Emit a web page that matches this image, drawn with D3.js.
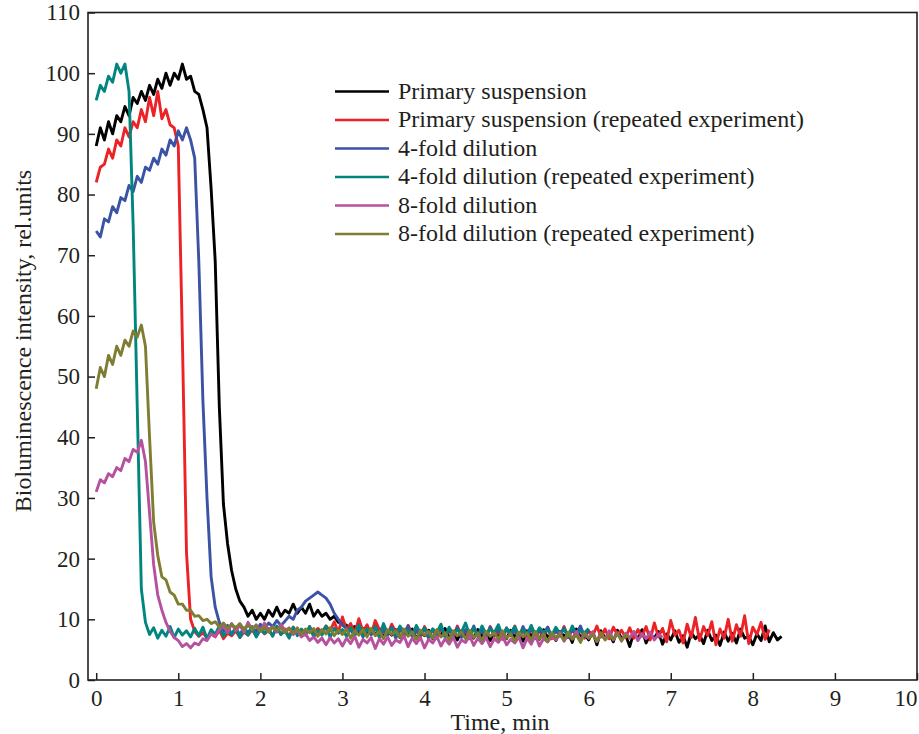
<!DOCTYPE html>
<html>
<head>
<meta charset="utf-8">
<script src="https://cdn.jsdelivr.net/npm/d3@7"></script>
<style>
  body { margin: 0; background: #fff; }
  text { font-family: "Liberation Serif", "Times New Roman", serif; fill: #231f20; }
</style>
</head>
<body>
<div id="chart"></div>
<script>
var w = 919, h = 734;

// sampling step of every series, in minutes (first sample at t = 0)
var dt = 0.05;

var seriesNames = [
  "Primary suspension",
  "Primary suspension (repeated experiment)",
  "4-fold dilution",
  "4-fold dilution (repeated experiment)",
  "8-fold dilution",
  "8-fold dilution (repeated experiment)"
];
var seriesColors = ["#000000", "#ed2227", "#3a53a4", "#00857f", "#b5519f", "#7f7d32"];

var xTicks = [0, 1, 2, 3, 4, 5, 6, 7, 8, 9, 10];
var yTicks = [0, 10, 20, 30, 40, 50, 60, 70, 80, 90, 100, 110];

// Primary suspension, 0 .. 8.35 min
var primary = [88, 91, 89, 92, 90, 93, 92, 94.5, 93, 96, 95, 97, 95.5, 98, 96.5, 99, 97.5, 100, 98, 100,
  99, 101.5, 99, 99.5, 97, 96.5, 94, 91, 81, 69, 45, 29, 22.5, 18, 15, 13, 12, 10.5, 11.5, 10,
  11, 10, 11.5, 10.5, 12, 10.5, 11.5, 11, 12.5, 11, 12, 11, 12.5, 10.5, 11.5, 10.5, 11, 10, 10.5, 9.5, 9.5,
  9, 8.4, 8.8, 7.9, 8.5, 7.6, 8.3, 7.5, 8.1, 7.2,
  8, 7.4, 8.3, 7, 7.9, 7.5, 8.4, 6.9, 7.8, 7.3,
  8.2, 6.8, 7.9, 7.4, 8.5, 7, 7.7, 6.6, 8.1, 7.3,
  7.9, 6.9, 8.3, 7.2, 7.6, 6.5, 8, 7.4, 7.8, 6.8,
  8.2, 7.1, 7.7, 6.4, 8.1, 7.3, 7.9, 6.7, 8.3, 7,
  7.6, 6.5, 8, 7.2, 7.8, 6.2, 8.4, 7.1, 7.5, 6.6,
  7.9, 5.8, 8.1, 6.9, 7.6, 6.3, 8.2, 6.8, 7.4, 5.5,
  7.9, 6.7, 8.3, 6.1, 7.5, 6.9, 8, 5.9, 7.6, 6.6,
  8.1, 6.2, 7.3, 5.4, 7.8, 6.8, 7.5, 6, 8.2, 6.5,
  7.4, 5.7, 7.9, 6.4, 7.7, 6.1, 8.4, 6.9, 7.2, 5.8,
  7.6, 6.5, 8.9, 6.3, 7.8, 6.6, 7.2];

// Primary suspension (repeated), 0 .. 8.2 min
var primaryRep = [82, 84.5, 85, 87.5, 86, 89, 88, 91, 89.5, 92, 91, 94, 92, 96, 93, 97, 92.5, 94, 91.5, 91,
  88, 56, 21, 10,
  8, 7.2, 7.8, 6.9, 7.6, 7.1, 8.2, 6.8, 7.7, 7.3,
  8.1, 7, 7.9, 7.4, 8.3, 7.2, 8.5, 7.6, 8.2, 7.3,
  8.6, 7.5, 8.4, 7.1, 8.7, 7.7, 8.3, 7.4, 8.8, 7.6,
  8.5, 7.9, 8.9, 8.1, 9.6, 7.8, 10.4, 8.2, 9.3, 7.7,
  10.1, 8, 9.1, 7.5, 9.8, 8.3, 8.7, 7.4, 9.2, 7.9,
  8.6, 7.2, 9, 7.6, 8.4, 7.1, 8.8, 7.5, 8.3, 6.9,
  8.7, 7.4, 8.2, 7, 8.9, 7.3, 8.1, 6.8, 8.6, 7.5,
  8.3, 7.1, 8.8, 7.2, 8, 6.7, 8.5, 7.4, 8.9, 7,
  8.2, 6.9, 8.6, 7.3, 8.1, 7.1, 8.7, 6.8, 8.4, 7.2,
  8.8, 7, 8.3, 7.4, 8.6, 6.9, 8.1, 7.3, 8.9, 7.1,
  8.4, 6.8, 8.7, 7.5, 8.2, 7, 8.6, 6.9, 8.3, 7.2,
  8.8, 6.6, 9.4, 7.1, 8.5, 6.3, 9.8, 7.4, 8.2, 6.1,
  9.2, 7, 10.3, 6.5, 8.8, 7.3, 9.6, 5.8, 8.4, 6.9,
  10, 6.4, 9.1, 7.2, 10.6, 6, 8.7, 7.5, 9.5, 6.7,
  8.3];

// 4-fold dilution, 0 .. 6.0 min
var fold4 = [74, 73, 76, 75.5, 78, 77, 79.5, 79, 81.5, 80.5,
  83, 82, 84.5, 84, 86, 85, 87.5, 86.5, 89, 88,
  90.5, 89, 91, 89, 86, 69, 46, 30, 17, 12,
  9.5, 8, 9, 7.5, 8.5, 7.5, 8.6, 7.8, 8.7, 8,
  9.2, 8.4, 9.4, 8.8, 9.8, 9, 9.7, 10.5, 10, 11.5,
  12, 13, 13.5, 14, 14.5, 14, 13.5, 12.5, 11, 10,
  9, 8.5,
  8.2, 7.3, 8.6, 7.1, 8.4, 7.5, 8.8, 7, 8.1, 7.4,
  8.7, 6.9, 8.3, 7.6, 8.9, 7.2, 8, 7.5, 8.5, 6.8,
  8.4, 7.3, 8.8, 7.1, 8.2, 7.6, 8.6, 7, 8.3, 7.4,
  8.9, 7.2, 8.1, 6.9, 8.7, 7.5, 8.4, 7.1, 8.6, 7.3,
  8.2, 7, 8.8, 7.4, 8.5, 6.8, 8.3, 7.6, 8.7, 7.2,
  8.1, 7.3, 8.6, 7, 8.4, 7.5, 8.9, 7.1, 8.2];

// 4-fold dilution (repeated), 0 .. 6.0 min
var fold4Rep = [95.5, 98, 97, 99.5, 98.5, 101.5, 100, 101.5, 97, 75, 45, 15, 9.5,
  7.5, 8.6, 6.9, 8.2, 7.2, 8.8, 7, 8.4, 7.4, 8.1,
  7.1, 8.5, 7.3, 8.7, 6.8, 8.3, 7.5, 8.9, 7.2, 8.2,
  7.6, 8.6, 7, 8.4, 7.4, 8.8, 7.1, 8.3, 7.7, 8.5,
  7.2, 8.9, 7.5, 8.1, 6.9, 8.7, 7.3, 8.4, 7.6, 8.8,
  7.1, 8.2, 7.4, 8.9, 7, 8.5, 7.7, 8.3, 7.2, 8.6,
  7.5, 9.1, 7.3, 8.4, 7.8, 8.8, 7.1, 9.3, 7.6, 8.5,
  7.4, 8.9, 7.9, 8.2, 7.2, 9, 7.7, 8.6, 7.3, 8.4,
  7.8, 9.2, 7.1, 8.7, 7.5, 8.3, 7.9, 9.4, 7.4, 8.6,
  7.2, 8.9, 7.6, 8.4, 7.8, 9.1, 7.3, 8.5, 7.7, 8.8,
  7.1, 8.3, 7.5, 9, 7.4, 8.6, 7.9, 8.2, 7.3, 8.7,
  7.6, 8.4, 7.2, 8.9, 7.5, 8.1, 7.8, 8.5];

// 8-fold dilution, 0 .. 6.9 min
var fold8 = [31, 33, 32.5, 34, 33.5, 35, 34.5, 36.5, 36, 38,
  37.5, 39.5, 36, 27.5, 19, 14, 11.5, 9.5, 8, 7,
  6.5, 5.5, 6, 5.3, 6.1, 5.8, 6.8, 6.5, 7.6, 7.2, 8.3,
  8.9, 7.8, 9.3, 8.1, 9, 7.9, 9.5, 8.3, 9.1, 8,
  9.4, 8.2, 8.8, 7.9, 9.2, 8.1, 8.6, 7.5, 8.2, 7.1,
  7.6, 6.5, 7.1, 6.2, 6.9, 5.8, 7, 6.1, 6.8, 5.6,
  6.9, 6, 7.2, 5.4, 6.7, 6.1, 7, 5.2, 6.8, 5.9,
  7.1, 5.7, 6.6, 6.2, 7.3, 5.5, 6.9, 6, 7, 5.3,
  6.7, 6.1, 7.2, 5.6, 6.8, 5.9, 7.1, 5.4, 6.6, 6.2,
  7.3, 5.7, 6.9, 6, 7, 5.5, 6.8, 6.2, 7.2, 5.8,
  6.7, 6.1, 7.1, 5.3, 6.9, 5.9, 7.4, 5.6, 6.8, 6.3,
  7.2, 6.6, 7.8, 6.4, 7.6, 6.8, 8, 6.5, 7.7, 6.9,
  7.9, 6.3, 7.5, 6.7, 8.1, 6.6, 7.8, 6.4, 7.7, 6.9,
  8, 6.5, 7.6, 6.8, 7.9, 6.6, 7.5, 7];

// 8-fold dilution (repeated), 0 .. 6.5 min
var fold8Rep = [48, 51.5, 50, 53.5, 52, 55, 53.5, 56, 55, 57.5,
  56.5, 58.5, 55, 40, 26, 20.5, 17, 16.5, 14.5, 14,
  12.5, 12.5, 11.5, 11.5, 10.5, 10.6, 9.8, 10, 9.3,
  9.6, 8.7, 9.4, 8.5, 9.2, 8.6, 9.3, 8.3, 9, 8.4,
  8.9, 8.1, 8.8, 7.9, 8.7, 8.2, 8.6, 7.8, 8.5, 7.7,
  8.6, 7.5, 8.4, 7.8, 8.5, 7.2, 8.3, 7.6, 8.6, 7.3,
  8.2, 7.5, 8.4, 6.9, 8.1, 7.4, 8.3, 7.1, 8.5, 7.3,
  8, 6.8, 8.3, 7.5, 8.1, 7, 8.4, 7.2, 7.9, 6.7,
  8.2, 7.4, 8, 6.9, 8.3, 7.1, 7.8, 6.6, 8.1, 7.3,
  7.9, 6.8, 8.2, 7, 7.7, 6.5, 8, 7.2, 7.8, 6.7,
  8.1, 6.9, 7.6, 6.4, 7.9, 7.1, 7.7, 6.6, 8, 6.8,
  7.6, 6.3, 7.8, 7, 7.5, 6.5, 7.9, 6.7, 7.4, 6.2,
  7.7, 6.9, 7.5, 6.4, 7.8, 6.6, 7.3, 6.8, 7.6, 6.5,
  7.4, 7];

var seriesValues = [primary, primaryRep, fold4, fold4Rep, fold8, fold8Rep];

// Scales
var xScale = d3.scaleLinear().domain([-0.1, 10]).range([88, 917]);
var yScale = d3.scaleLinear().domain([0, 110]).range([680, 12.5]);

var svg = d3.select("#chart")
  .append("svg")
  .attr("width", w)
  .attr("height", h);

svg.append("clipPath")
  .attr("id", "plot-area")
  .append("rect")
  .attr("x", 88)
  .attr("y", 12.5)
  .attr("width", 917 - 88)
  .attr("height", 680 - 12.5);

// Curves
var line = d3.line()
  .x(function(d, i) { return xScale(i * dt); })
  .y(function(d) { return yScale(d); });

svg.append("g")
  .attr("clip-path", "url(#plot-area)")
  .selectAll("path")
  .data(seriesValues)
  .enter()
  .append("path")
  .attr("d", line)
  .attr("fill", "none")
  .attr("stroke", function(d, i) { return seriesColors[i]; })
  .attr("stroke-width", 2.9)
  .attr("stroke-linejoin", "round");

// Axes (ticks point inward)
var xAxis = d3.axisBottom(xScale)
  .tickValues(xTicks)
  .tickSizeInner(-7)
  .tickSizeOuter(0)
  .tickPadding(10)
  .tickFormat(d3.format("d"));

var yAxis = d3.axisLeft(yScale)
  .tickValues(yTicks)
  .tickSizeInner(-7)
  .tickSizeOuter(0)
  .tickPadding(8)
  .tickFormat(d3.format("d"));

var gx = svg.append("g")
  .attr("transform", "translate(0," + 680 + ")")
  .call(xAxis);

var gy = svg.append("g")
  .attr("transform", "translate(" + 88 + ",0)")
  .call(yAxis);

[gx, gy].forEach(function(g) {
  g.select(".domain").remove();
  g.selectAll(".tick line").attr("stroke", "#231f20").attr("stroke-width", 1.5);
  g.selectAll(".tick text")
    .attr("fill", "#231f20")
    .style("font-family", "'Liberation Serif', 'Times New Roman', serif")
    .style("font-size", "23px");
});

// last x label sits inside the frame edge
gx.selectAll(".tick text")
  .filter(function(d) { return d === 10; })
  .attr("text-anchor", "end");

// Frame
svg.append("rect")
  .attr("x", 88)
  .attr("y", 12.5)
  .attr("width", 917 - 88)
  .attr("height", 680 - 12.5)
  .attr("fill", "none")
  .attr("stroke", "#231f20")
  .attr("stroke-width", 1.6);

// Axis titles
svg.append("text")
  .attr("transform", "translate(31,341) rotate(-90)")
  .attr("text-anchor", "middle")
  .style("font-size", "24px")
  .text("Bioluminescence intensity, rel.units");

svg.append("text")
  .attr("x", 500)
  .attr("y", 730)
  .attr("text-anchor", "middle")
  .style("font-size", "24px")
  .text("Time, min");

// Legend
var legend = svg.append("g")
  .selectAll("g")
  .data(seriesNames)
  .enter()
  .append("g")
  .attr("transform", function(d, i) { return "translate(335," + (91.5 + i * 28.5) + ")"; });

legend.append("line")
  .attr("x1", 0)
  .attr("x2", 54)
  .attr("stroke", function(d, i) { return seriesColors[i]; })
  .attr("stroke-width", 2.4);

legend.append("text")
  .attr("x", 63)
  .attr("y", 7)
  .style("font-size", "24px")
  .text(function(d) { return d; });
</script>
</body>
</html>
